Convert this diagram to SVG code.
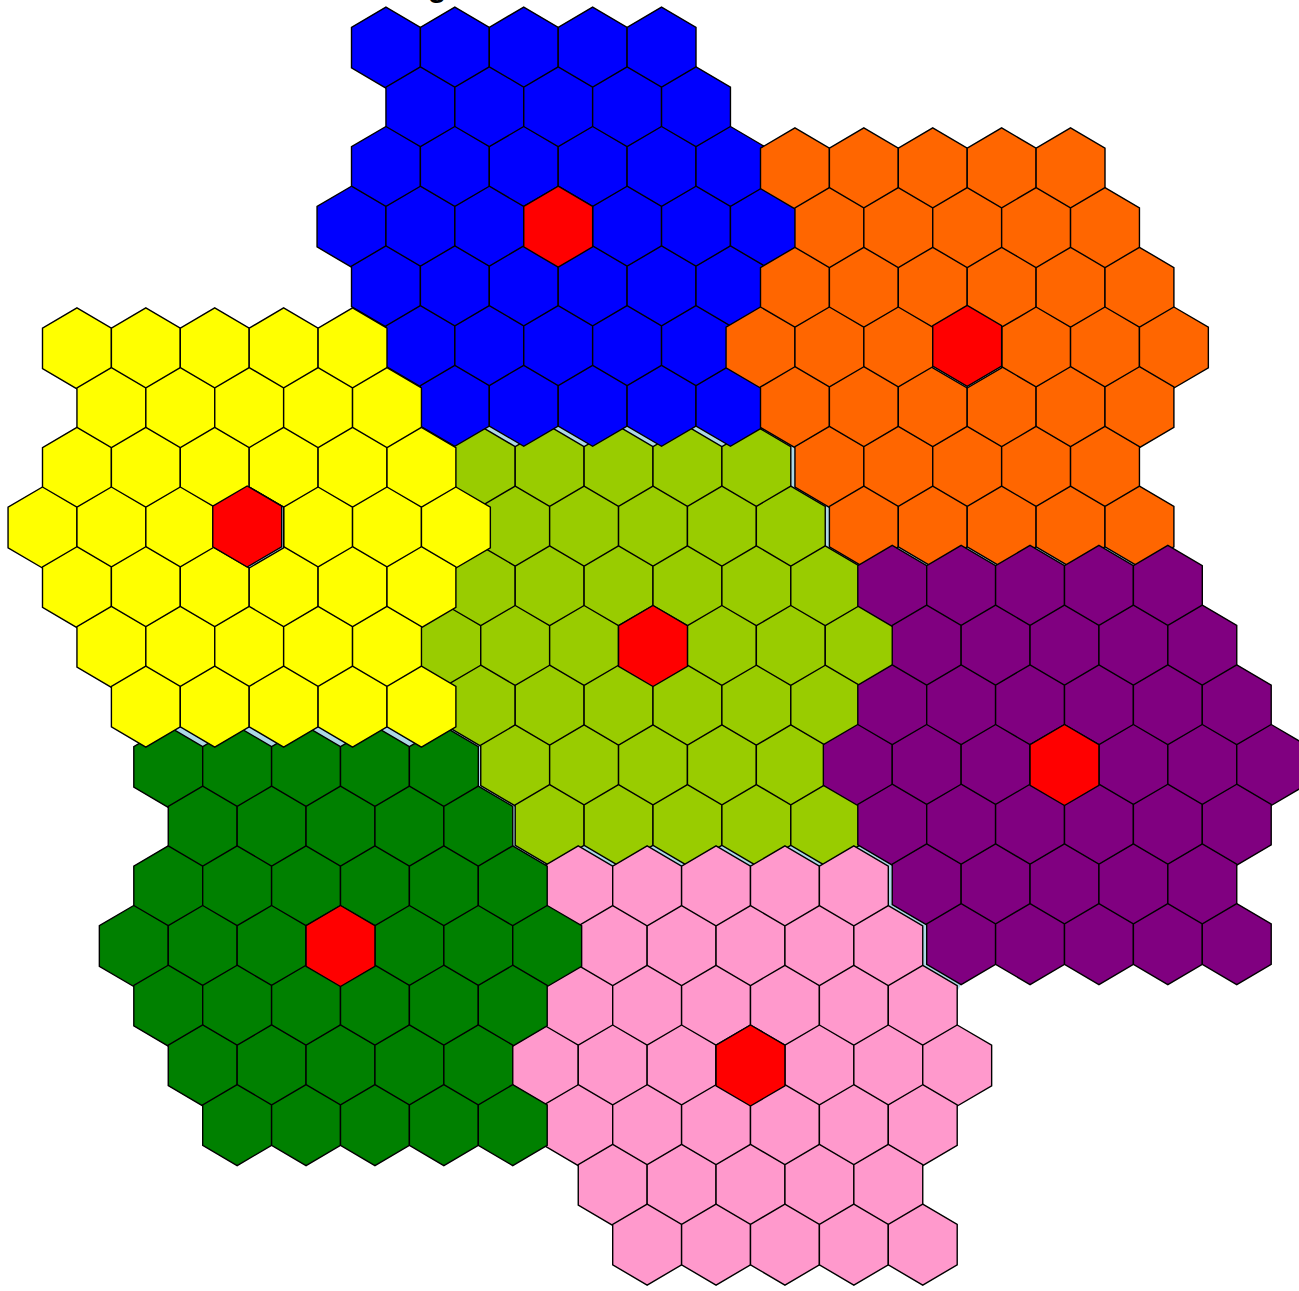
<svg xmlns="http://www.w3.org/2000/svg" xmlns:xlink="http://www.w3.org/1999/xlink" width="1299" height="1291" viewBox="0 0 1299 1291">
<style>
.region{stroke:#000;stroke-width:1.4;stroke-linejoin:miter}
.halo{fill:none;stroke:#add8e6;stroke-width:14;stroke-linejoin:round}
.lime{fill:#99cc00}.blue{fill:#0000ff}.orange{fill:#ff6600}.purple{fill:#800080}.pink{fill:#ff99cc}.green{fill:#008000}.yellow{fill:#ffff00}.red{fill:#ff0000}.lb{fill:#add8e6}
.title{font-family:"Liberation Sans",Arial,sans-serif;font-weight:bold;font-size:30px;fill:#000}
</style>
<defs>
<polygon id="h" points="0,-40.5 34.45,-20.25 34.45,20.25 0,40.5 -34.45,20.25 -34.45,-20.25"/>
<g id="cl">
<use href="#h" x="-172.25" y="-179.1"/><use href="#h" x="-103.35" y="-179.1"/><use href="#h" x="-34.45" y="-179.1"/><use href="#h" x="34.45" y="-179.1"/><use href="#h" x="103.35" y="-179.1"/>
<use href="#h" x="-137.8" y="-119.4"/><use href="#h" x="-68.9" y="-119.4"/><use href="#h" x="0" y="-119.4"/><use href="#h" x="68.9" y="-119.4"/><use href="#h" x="137.8" y="-119.4"/>
<use href="#h" x="-172.25" y="-59.7"/><use href="#h" x="-103.35" y="-59.7"/><use href="#h" x="-34.45" y="-59.7"/><use href="#h" x="34.45" y="-59.7"/><use href="#h" x="103.35" y="-59.7"/><use href="#h" x="172.25" y="-59.7"/>
<use href="#h" x="-206.7" y="0"/><use href="#h" x="-137.8" y="0"/><use href="#h" x="-68.9" y="0"/><use href="#h" x="0" y="0"/><use href="#h" x="68.9" y="0"/><use href="#h" x="137.8" y="0"/><use href="#h" x="206.7" y="0"/>
<use href="#h" x="-172.25" y="59.7"/><use href="#h" x="-103.35" y="59.7"/><use href="#h" x="-34.45" y="59.7"/><use href="#h" x="34.45" y="59.7"/><use href="#h" x="103.35" y="59.7"/><use href="#h" x="172.25" y="59.7"/>
<use href="#h" x="-137.8" y="119.4"/><use href="#h" x="-68.9" y="119.4"/><use href="#h" x="0" y="119.4"/><use href="#h" x="68.9" y="119.4"/><use href="#h" x="137.8" y="119.4"/>
<use href="#h" x="-103.35" y="179.1"/><use href="#h" x="-34.45" y="179.1"/><use href="#h" x="34.45" y="179.1"/><use href="#h" x="103.35" y="179.1"/><use href="#h" x="172.25" y="179.1"/>
</g>
<clipPath id="clipOrange"><rect x="842" y="535" width="324" height="45"/></clipPath>
<clipPath id="clipPurple"><polygon points="852,842 906,842 976,958 958,990 914,990 874,918 850,872"/></clipPath>
<clipPath id="clipGreen"><rect x="142" y="712" width="330" height="55"/></clipPath>
</defs>
<rect width="1299" height="1291" fill="#ffffff"/>
<text class="title" x="428" y="-3.5">g</text>
<g id="seams">
<g class="halo" transform="translate(653 646)"><use href="#cl"/></g>
<g clip-path="url(#clipOrange)"><g class="halo" transform="translate(967.2 347.5)"><use href="#cl"/></g></g>
<g clip-path="url(#clipPurple)"><g class="halo" transform="translate(1065.7 765)"><use href="#cl"/></g></g>
<g clip-path="url(#clipGreen)"><g class="halo" style="stroke-width:16" transform="translate(340.5 946)"><use href="#cl"/></g></g>
</g>
<g id="region-lime" class="region lime" transform="translate(653 646)"><use href="#cl"/><use href="#h" class="red"/></g>
<g id="region-blue" class="region blue" transform="translate(558.2 226.7)"><use href="#cl"/><use href="#h" class="red"/></g>
<g id="region-orange" class="region orange" transform="translate(967.2 347.5)"><use href="#cl"/><use href="#h" class="lb"/><use href="#h" class="red" y="-1.6"/></g>
<g id="region-purple" class="region purple" transform="translate(1064.5 765)"><use href="#cl"/><use href="#h" class="red"/></g>
<g id="region-pink" class="region pink" transform="translate(750.5 1065.5)"><use href="#cl"/><use href="#h" class="red"/></g>
<g id="region-green" class="region green" transform="translate(340.5 946)"><use href="#cl"/><use href="#h" class="red"/></g>
<g id="region-yellow" class="region yellow" transform="translate(249.2 527.5)"><use href="#cl"/><use href="#h" class="lb"/><use href="#h" class="red" x="-2" y="-1"/></g>
</svg>
